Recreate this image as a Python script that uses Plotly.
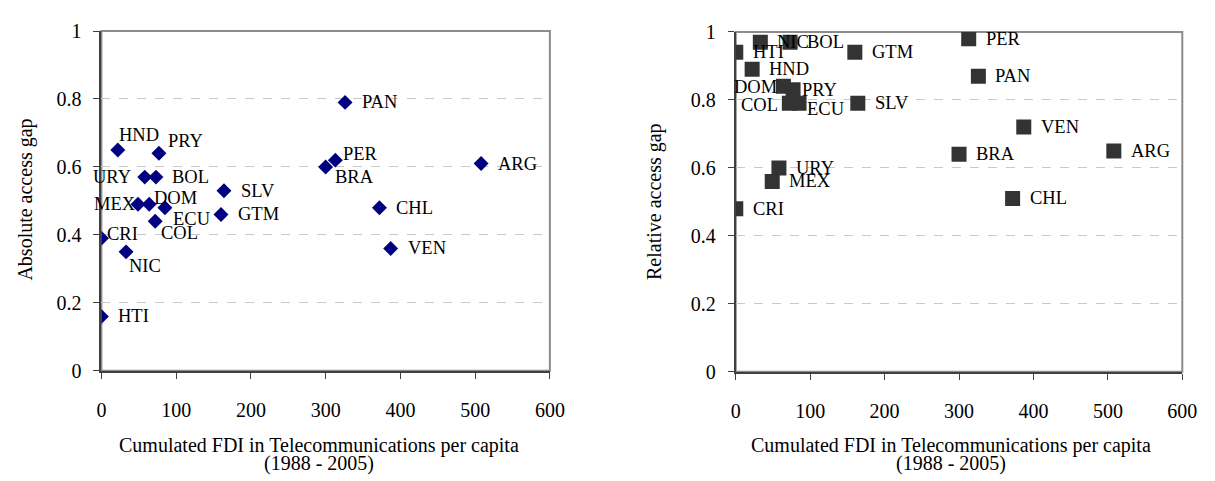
import plotly.graph_objects as go

# ---- data ----
countries = ["HTI", "CRI", "NIC", "HND", "PRY", "URY", "BOL", "MEX", "DOM", "ECU",
             "COL", "SLV", "GTM", "PAN", "PER", "BRA", "ARG", "CHL", "VEN"]
fdi_per_capita = [0, 0, 33, 22, 77, 58, 73, 49, 64, 85,
                  72, 164, 160, 326, 313, 300, 508, 372, 387]
absolute_gap = [0.16, 0.39, 0.35, 0.65, 0.64, 0.57, 0.57, 0.49, 0.49, 0.48,
                0.44, 0.53, 0.46, 0.79, 0.62, 0.60, 0.61, 0.48, 0.36]
relative_gap = [0.94, 0.48, 0.97, 0.89, 0.83, 0.60, 0.97, 0.56, 0.84, 0.79,
                0.79, 0.79, 0.94, 0.87, 0.98, 0.64, 0.65, 0.51, 0.72]

x_title_1 = "Cumulated FDI in Telecommunications per capita"
x_title_2 = "(1988 - 2005)"
y_title_left = "Absolute access gap"
y_title_right = "Relative access gap"

# ---- label placement styles (pixel offsets, anchor) ----
left_label_style = {
    "HTI": (16, 0, "left"), "CRI": (5, 4, "left"), "NIC": (2, -14, "left"),
    "HND": (0, 15, "left"), "PRY": (8, 12, "left"), "URY": (-13, 0, "right"),
    "BOL": (15, 0, "left"), "MEX": (-1, 0, "right"), "DOM": (4, 6, "left"),
    "ECU": (7, -11, "left"), "COL": (5, -12, "left"), "PER": (7, 6, "left"),
    "BRA": (8, -10, "left"),
}
right_label_style = {
    "DOM": (-5, -1, "right"), "COL": (-10, -2, "right"), "PRY": (8, 0, "left"),
    "ECU": (7, -6, "left"),
}
default_style = (16, 0, "left")

FONT = "Liberation Serif"
W, H = 1215, 481

fig = go.Figure()

fig.add_trace(go.Scatter(
    x=fdi_per_capita, y=absolute_gap, mode="markers",
    marker=dict(symbol="diamond", size=11.5, color="#000080"),
    xaxis="x", yaxis="y", showlegend=False, hoverinfo="text", text=countries))
fig.add_trace(go.Scatter(
    x=fdi_per_capita, y=relative_gap, mode="markers",
    marker=dict(symbol="square", size=15, color="#333333"),
    xaxis="x2", yaxis="y2", showlegend=False, hoverinfo="text", text=countries))

annotations = []
for c, xv, yv in zip(countries, fdi_per_capita, absolute_gap):
    dx, dy, anc = left_label_style.get(c, default_style)
    annotations.append(dict(x=xv, y=yv, xref="x", yref="y", text=c, showarrow=False,
                            xanchor=anc, yanchor="middle", xshift=dx, yshift=dy,
                            borderpad=0, font=dict(family=FONT, size=18.5, color="black")))
for c, xv, yv in zip(countries, fdi_per_capita, relative_gap):
    dx, dy, anc = right_label_style.get(c, default_style)
    annotations.append(dict(x=xv, y=yv, xref="x2", yref="y2", text=c, showarrow=False,
                            xanchor=anc, yanchor="middle", xshift=dx, yshift=dy,
                            borderpad=0, font=dict(family=FONT, size=18.5, color="black")))

# axis titles as annotations (pixel-placed)
def px_x(p):
    return p / W

def px_y(p):
    return 1 - p / H

tfont = dict(family=FONT, size=20, color="black")
for cx in (319, 962):
    annotations.append(dict(x=px_x(cx), y=px_y(455), xref="paper", yref="paper", text=x_title_1,
                            showarrow=False, xanchor="center", yanchor="middle", font=tfont))
    annotations.append(dict(x=px_x(cx), y=px_y(474), xref="paper", yref="paper", text=x_title_2,
                            showarrow=False, xanchor="center", yanchor="middle", font=tfont))
annotations.append(dict(x=px_x(21), y=px_y(198), xref="paper", yref="paper", text=y_title_left,
                        showarrow=False, textangle=-90, xanchor="center", yanchor="middle", font=tfont))
annotations.append(dict(x=px_x(661), y=px_y(200), xref="paper", yref="paper", text=y_title_right,
                        showarrow=False, textangle=-90, xanchor="center", yanchor="middle", font=tfont))

xaxis_common = dict(range=[0, 600], tickvals=[0, 100, 200, 300, 400, 500, 600],
                    showgrid=False, zeroline=False, showline=True, linecolor="#404040", linewidth=2,
                    ticks="outside", ticklen=6, tickcolor="#404040", tickwidth=1,
                    tickfont=dict(family=FONT, size=20, color="black"), ticklabelstandoff=14,
                    fixedrange=True)
yaxis_common = dict(range=[0, 1], tickvals=[0, 0.2, 0.4, 0.6, 0.8, 1],
                    ticktext=["0", "0.2", "0.4", "0.6", "0.8", "1"],
                    showgrid=True, gridcolor="#c8c8c8", gridwidth=1, griddash="dash",
                    zeroline=False, showline=True, linecolor="#404040", linewidth=2,
                    ticks="outside", ticklen=6, tickcolor="#404040", tickwidth=1,
                    tickfont=dict(family=FONT, size=20, color="black"), ticklabelstandoff=8,
                    fixedrange=True)

fig.update_layout(
    width=W, height=H, autosize=False,
    margin=dict(l=0, r=0, t=0, b=0),
    font=dict(family=FONT),
    paper_bgcolor="white", plot_bgcolor="white",
    xaxis=dict(domain=[98 / W, 554 / W], anchor="y", **xaxis_common),
    yaxis=dict(domain=[1 - 377 / H, 1 - 21 / H], anchor="x", **yaxis_common),
    xaxis2=dict(domain=[743 / W, 1197 / W], anchor="y2", **xaxis_common),
    yaxis2=dict(domain=[1 - 378 / H, 1 - 22 / H], anchor="x2", **yaxis_common),
    annotations=annotations,
    shapes=[
        dict(type="rect", xref="x domain", yref="y domain", x0=0, x1=1, y0=0, y1=1,
             line=dict(color="#8c8c8c", width=2), layer="below"),
        dict(type="rect", xref="x2 domain", yref="y2 domain", x0=0, x1=1, y0=0, y1=1,
             line=dict(color="#8c8c8c", width=2), layer="below"),
    ],
)

fig.write_html("out.html")
